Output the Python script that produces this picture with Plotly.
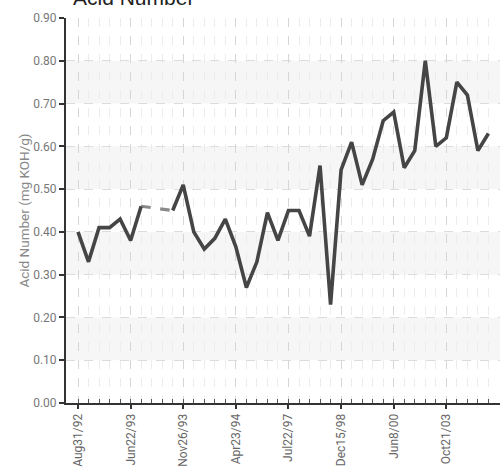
import plotly.graph_objects as go

# ---- data ----
acid_number = [0.40, 0.33, 0.41, 0.41, 0.43, 0.38, 0.46, None, None, 0.45,
               0.51, 0.40, 0.36, 0.385, 0.43, 0.365, 0.27, 0.33, 0.445, 0.38,
               0.45, 0.45, 0.39, 0.555, 0.23, 0.545, 0.61, 0.51, 0.57, 0.66,
               0.68, 0.55, 0.59, 0.80, 0.60, 0.62, 0.75, 0.72, 0.59, 0.63]
tick_labels = ["Aug31/92", "Jun22/93", "Nov26/93", "Apr23/94",
               "Jul22/97", "Dec15/98", "Jun8/00", "Oct21/03"]
y_ticks = [0.0, 0.1, 0.2, 0.3, 0.4, 0.5, 0.6, 0.7, 0.8, 0.9]

x_idx = list(range(len(acid_number)))
label_step = 5
tick_pos = [i * label_step for i in range(len(tick_labels))]

# gap segments (dashed connectors across missing samples)
gap_x, gap_y = [], []
i = 0
n = len(acid_number)
while i < n:
    if acid_number[i] is None:
        s = i - 1
        while i < n and acid_number[i] is None:
            i += 1
        if s >= 0 and i < n:
            gap_x += [s, i, None]
            gap_y += [acid_number[s], acid_number[i], None]
    else:
        i += 1

FONT = "Roboto, Arial, sans-serif"

fig = go.Figure()
fig.add_trace(go.Scatter(x=gap_x, y=gap_y, mode="lines",
                         line=dict(color="#8a8a8a", width=3.2, dash="dash"),
                         hoverinfo="skip", showlegend=False))
fig.add_trace(go.Scatter(x=x_idx, y=acid_number, mode="lines",
                         line=dict(color="#454545", width=3.6),
                         connectgaps=False, showlegend=False))

# alternating bands
shapes = []
for k in range(1, len(y_ticks) - 1, 2):
    shapes.append(dict(type="rect", xref="paper", yref="y", x0=0, x1=1,
                       y0=y_ticks[k], y1=y_ticks[k + 1],
                       fillcolor="#f6f6f6", line=dict(width=0), layer="below"))

fig.update_layout(
    width=504, height=470,
    margin=dict(l=66, r=4, t=18, b=67),
    paper_bgcolor="white", plot_bgcolor="white",
    shapes=shapes,
    font=dict(family=FONT, color="#666666", size=12),
    annotations=[dict(text="Acid Number", xref="paper", yref="paper",
                      x=0, y=1, xanchor="left", yanchor="bottom",
                      xshift=5, yshift=7, showarrow=False,
                      font=dict(family="Liberation Sans, Arial, sans-serif",
                                size=21, color="#222222"))],
)

fig.update_xaxes(
    range=[-1.14, 40.1], automargin=False,
    tickmode="array", tickvals=tick_pos, ticktext=tick_labels,
    tickangle=-90, tickfont=dict(size=12, color="#666666"),
    showline=True, linecolor="#333333", linewidth=2,
    ticks="outside", ticklen=4, tickcolor="#333333", tickwidth=2,
    showgrid=True, gridcolor="#d6d6d6", griddash="dash", gridwidth=1,
    minor=dict(tickvals=x_idx, ticks="inside", ticklen=4,
               tickcolor="#555555", tickwidth=1,
               showgrid=True, gridcolor="#ececec", griddash="dash"),
    zeroline=False,
)
fig.update_yaxes(
    range=[0, 0.9], tickvals=y_ticks, tickformat=".2f", automargin=False,
    tickfont=dict(size=12, color="#777777"),
    title=dict(text="Acid Number (mg KOH/g)", font=dict(size=13.5, color="#888888"),
               standoff=0),
    showline=True, linecolor="#333333", linewidth=2,
    ticks="outside", ticklen=5, tickcolor="#333333", tickwidth=2,
    showgrid=True, gridcolor="#dcdcdc", griddash="dash", gridwidth=1,
    zeroline=False,
)

fig.write_html("out.html", config={"displayModeBar": False},
               post_script="document.body.style.margin='0';document.body.style.overflow='hidden';")
